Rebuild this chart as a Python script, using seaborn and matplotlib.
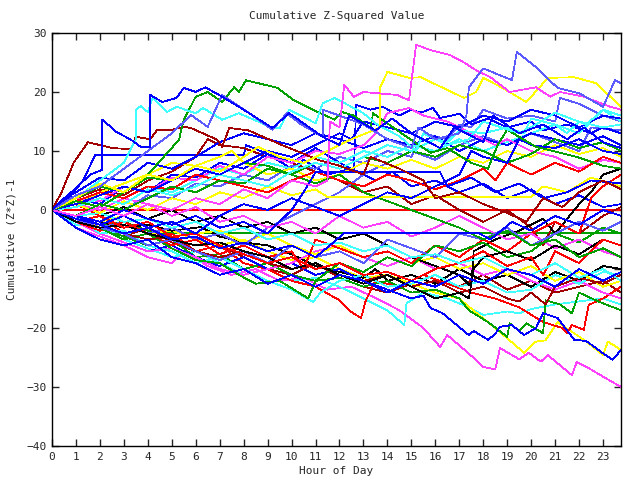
import pandas as pd
import matplotlib
matplotlib.use("Agg")
import matplotlib.pyplot as plt
import seaborn as sns

# colours (gnuplot png style)
RED = '#ff0000'
GRN = '#00a000'
BLU = '#0000ff'
MAG = '#ff40ff'
CYN = '#40ffff'
DRD = '#a00000'
YEL = '#ffff00'
PER = '#5a5aff'
BLK = '#000000'

# each series: (hour, cumulative value) vertices
blue_a = [(0,0),(0.8,3),(1.6,6),(2.1,6.8),(2.1,15.3),(2.7,13.2),(3.3,11.9),(3.7,10.7),(4.1,10.7),(4.1,19.5),(4.6,18.3),(5.2,19),(5.5,20.7),(6.0,20),(6.4,20.8),(7.1,19.2),(8.0,17),(9.2,13.9),(9.9,16.4),(11.3,12.4),(12.0,11),(12.4,16),(13.5,13.5),(14.2,15.5),(15.0,13),(16.2,10.5),(16.8,14),(18.0,11.5),(18.4,16),(19.5,13),(20.5,14.5),(21.5,12),(22.2,14),(23.0,11.5),(23.75,10.5)]
cyan_a = [(0,0),(1,2),(2,5),(3,8),(3.5,12),(3.5,17),(3.7,17.6),(4.0,16.6),(4.2,19),(4.8,16.6),(5.2,17.5),(6,16.4),(6.3,17.3),(7.1,15.3),(7.8,16.4),(9.1,14.1),(9.5,13.8),(9.9,17),(11,14.7),(11.3,18.1),(11.8,19),(13,16.4),(13.6,14.4),(14.5,12.5),(15.2,10),(15.5,13),(16.5,11),(17.4,12),(18,15),(19.5,13),(20.2,14.5),(21,16.5),(22.3,14.5),(23,17),(23.75,16)]
green_a = [(0,0),(1,1.5),(2,0.5),(3,3),(4,6),(5.3,11.9),(5.5,15.3),(6,19.2),(6.5,20),(7.1,18.3),(7.6,20.8),(7.8,20),(8.1,22),(9.4,20.7),(10.1,18.6),(11.1,16.6),(11.8,15.3),(12.1,16.6),(12.6,16),(13.3,13.9),(13.4,16.4),(14.8,12.4),(15.8,9.7),(16.5,10.5),(17.5,8),(18.2,7),(18.6,11),(19,13.6),(20.2,10.7),(21.9,9),(23,7.5),(23.75,7)]
darkred_a = [(0,0),(0.4,3),(0.9,8),(1.5,11.5),(2,11),(2.5,10.5),(3.3,10.3),(3.5,12.4),(4.1,12),(4.4,13.6),(5.0,13.6),(5.5,14.1),(5.8,13.9),(6.9,11.9),(7.1,10.7),(7.4,13.9),(8.2,13.5),(9.6,11),(10.4,9.7),(11.1,8.5),(12,7.5),(13,6),(13.3,9),(14.5,7),(15.5,5),(16,2),(17,3),(18,1),(19,-0.5),(19.8,-2),(20.5,2),(21.3,0.5),(22,3),(23,5),(23.75,3.5)]
peri_a = [(0,0),(1,2.5),(2,4),(3,7),(4,10),(5,13),(5.8,16.1),(6.5,14.1),(7.1,19.5),(8.2,16.5),(9.2,13.6),(9.8,16.4),(10.4,14.5),(11.3,12.4),(11.3,17),(12,16),(13,14.5),(14,12),(15,10.5),(15.3,14),(16,12),(17,13),(17.3,16),(17.4,20.8),(18,24),(19.2,22),(19.4,26.8),(20.2,24.2),(21.1,20.7),(22,19.8),(23,17.5),(23.5,22),(23.75,21.5)]
mag_a = [(0,0),(1,-1),(2,0.5),(3,-1),(4,1),(5,0),(6,2),(7,1),(8,3.5),(9,2),(10,5),(11,4),(11.5,5),(11.6,15),(12,14),(12.2,21.2),(12.6,19.2),(13,20),(14.4,19.5),(14.9,18.6),(15.2,28),(15.8,27.1),(16.6,26.3),(17.2,25),(17.7,23.7),(18.3,22.5),(19.1,20),(20.2,20.8),(20.8,19.2),(21.2,20),(22.2,19.2),(23.3,17.5),(23.75,17)]
yel_a = [(0,0),(1,2),(2,4.5),(3,3),(4,6),(5,5),(6,7.5),(7,6.5),(8,9),(8.6,10.7),(9.5,9),(10.5,8),(11.5,10),(12.5,12),(13.7,14),(13.7,20.8),(14,23.4),(14.9,22.4),(15.4,22.5),(15.8,21.7),(17.2,19),(17.7,20),(18,22.4),(18.8,20.7),(19.8,18.3),(20.7,22.4),(21.8,22.5),(22.7,21.5),(23.3,19.2),(23.75,17.5)]
mag_b = [(0,0),(0.5,-1.5),(1,-3),(2,-4.5),(3,-6),(4,-8),(5,-9),(5.5,-7),(6.5,-9.5),(7.5,-11),(8.5,-10),(9.5,-12),(10.5,-11.5),(11.5,-13.5),(12.5,-13),(13.7,-15.3),(14.5,-17),(15.5,-20),(16.2,-23.2),(16.5,-21.2),(17.7,-25.4),(18,-26.6),(18.5,-27),(18.7,-23.4),(19.5,-25.3),(19.9,-24.2),(20.4,-25.7),(20.7,-24.6),(21.7,-28),(21.9,-25.8),(22.4,-26.8),(22.9,-28),(23.75,-30)]
blue_b = [(0,0),(1,-2),(2,-4),(3,-5.5),(4,-7),(5,-6),(6,-8),(7,-9.5),(8,-8),(9,-10),(10,-9),(11,-11),(12,-10),(13,-12),(14,-13.5),(15,-15),(15.5,-14.5),(15.8,-16.6),(16.3,-17.5),(17.4,-21.2),(17.6,-20.5),(18.2,-22),(18.5,-21),(18.7,-19.8),(19.2,-19.5),(19.7,-21.2),(20.2,-20),(20.5,-17.5),(21.1,-18.3),(21.8,-22),(22.3,-22.2),(22.9,-24),(23.4,-25.4),(23.75,-23.7)]
yel_b = [(0,0),(1,-1),(2,-3),(3,-2),(4,-4),(5,-3.5),(6,-5),(7,-6),(8,-5),(9,-7),(10,-8.5),(11,-8),(12,-10),(13,-11.5),(14,-11),(15,-12.5),(16,-14),(17,-15),(17.4,-16.4),(18.5,-20),(19.7,-24.2),(20.2,-22.3),(20.6,-22.1),(21.1,-19),(22.2,-22),(23,-24.6),(23.2,-22.3),(23.75,-23.7)]
green_b = [(0,0),(1,-1.5),(2,-3),(3,-4.5),(4,-6),(5,-5),(6,-8),(7,-7.5),(8,-10),(9,-9),(10,-11),(11,-12),(12,-11.5),(13,-13),(14,-12),(15,-14),(16,-13.5),(17,-15),(17.4,-17),(18.2,-19),(19,-21.5),(19.1,-19.2),(19.5,-20.5),(19.8,-19.2),(20.5,-20.9),(20.6,-15.3),(21.2,-16),(21.7,-17.5),(22,-14),(22.8,-15.5),(23.75,-17)]
red_b = [(0,0),(1,-2),(2,-1),(3,-4),(4,-5),(5,-4),(6,-7),(7,-6),(8,-9),(9,-10),(10,-12),(11,-13),(12,-15.3),(12.5,-17.3),(12.9,-18.3),(13.1,-15.3),(13.5,-12),(14.5,-13),(15.5,-11),(16.5,-12.5),(17.5,-14),(18.5,-15),(19.5,-16.5),(20.5,-19),(21.3,-20),(21.5,-20.9),(21.7,-19.5),(22.2,-20.3),(22.4,-16.1),(23,-15),(23.75,-13)]
cyan_b = [(0,0),(1,-2.5),(2,-3),(3,-5),(4,-6.5),(5,-8),(6,-7),(7,-9),(8,-11),(9,-10),(10,-12),(11,-11.5),(12,-13),(13,-15),(14,-17),(14.7,-19.5),(14.8,-15.8),(15.5,-14),(16.5,-15),(17.4,-16.5),(18,-17.8),(19,-17.2),(19.5,-17.5),(20,-16.8),(21,-16),(22,-15.5),(23,-15),(23.75,-16)]
cyan_c = [(0,0),(1,-1),(2,-4),(3,-3.5),(4,-6),(5,-7),(6,-9),(7,-8),(8,-10),(9,-12),(10,-13.5),(10.9,-15.6),(11.2,-14),(12,-12),(13,-11),(14,-13),(15,-12.5),(16,-11),(17,-13),(18,-12),(19,-14),(20,-13.5),(21,-11),(22,-12.5),(23,-10.5),(23.75,-11)]
green_c = [(0,0),(1,-2),(2,-3),(3,-5),(4,-4),(5,-6.5),(6,-8.5),(7,-9),(7.8,-11),(8.5,-12.5),(9.5,-12),(10.7,-15),(11,-12),(12,-9),(13,-10.5),(14,-8),(15,-9.5),(16,-6),(17,-7),(18,-5.5),(19,-8),(20,-7),(21,-4),(22,-5.5),(23,-3),(23.75,-4)]
red_h = [(0,0.5),(0.5,0),(23.75,0)]
green_h = [(0,0),(1,-1),(2,-2.5),(3,-2),(4,-3.5),(4.5,-3.9),(23.75,-3.9)]
blue_h1 = [(0,0),(0.7,2),(1.3,5),(1.8,9.3),(8.0,9.3),(8.1,11),(9,9.5),(10,7),(10.5,8.5),(11.5,6),(12.5,7),(13.5,5),(14.2,6.5),(15,4),(16,5),(17,3),(18,4.5),(19,2),(20,3.5),(21,1),(22,2.5),(23,0.5),(23.75,1)]
blue_h2 = [(0,0),(1,-1),(2,-2),(3,0),(4,-1.5),(5,-2.5),(6,-1),(7,-3),(8,-2),(9,-4),(10,0),(10.5,3),(11,6.4),(16.2,6.4),(16.5,4),(17.5,5.5),(18.5,3),(19.5,4.5),(20.5,2),(21.5,3),(22.5,5),(23.75,4.5)]
yel_h = [(0,0),(1,1),(2,-0.5),(3,1.5),(4,0),(5,2),(6,1),(7,3),(8,2),(9,4),(10,2.5),(11,3.5),(11.5,2.2),(20.0,2.2),(20.5,4),(21.5,3),(22.5,5.5),(23.75,4)]
blue_h3 = [(0,0),(1,-1.5),(2,-2.5),(3,-4),(4,-3),(5,-5),(6,-4.5),(7,-6.5),(8,-5.5),(9,-7),(10,-6),(11,-8),(11.6,-6),(12.2,-3.9),(17.8,-3.9),(18.3,-5),(19.2,-2),(20,-3.5),(21,-1),(22,-2.5),(23,0),(23.75,-1)]
blk_a = [(0,0),(1,-1),(2,-2),(3,-3),(4,-2.5),(5,-3.5),(6.2,-2.9),(7,-4.5),(8,-5.5),(9,-6),(10,-7.5),(11,-9.5),(12,-10.5),(13,-11.5),(13.5,-10),(14,-12),(15,-11),(16,-12.5),(17,-10),(18,-12),(19,-11),(20,-13),(21,-10.5),(22,-12),(23,-9.5),(23.75,-10)]
blk_b = [(0,0),(1,1),(2,-1),(3,0.5),(4,-1.5),(5,0),(6,-2),(7,-1),(8,-3),(9,-2),(10,-4),(11,-3),(12,-5),(13,-4),(14,-6),(15,-8),(16,-9.5),(17,-11),(17.5,-13),(17.6,-7),(18.5,-5),(19.5,-3.5),(20.5,-1.5),(21,-4),(22,1),(22.5,3),(23,6),(23.75,7)]
blue_c = [(0,0),(1,2),(2,1),(3,4),(4,3),(5,6),(6,5.5),(7,8),(8,7),(9,9.5),(10,8),(11,10.5),(12,8),(12.6,6.8),(12.7,17.8),(13.3,17),(13.8,17.5),(14.5,16),(15,17),(15.4,16.5),(15.9,17.3),(16.2,15.6),(17,16.3),(17.5,14.5),(18.2,15.5),(19,14),(20,15),(20.5,13.5),(21.5,14.5),(22.5,13),(23,14),(23.75,13)]
peri_b = [(0,0),(1,-1),(2,1),(3,0),(4,2.5),(5,2),(6,4.5),(7,4),(8,6),(9,5),(10,7.5),(11,7),(12,9),(13,8),(14,10),(15,9),(15.5,13),(16.5,12),(17,14.5),(17.5,14),(18,17),(19,15.5),(20,16),(21,15),(21.2,19),(22,18),(23,16),(23.75,15)]
peri_c = [(0,0),(1,-2),(2,-3),(3,-2),(4,-4),(5,-3),(6,-5),(7,-4),(8,-6),(9,-3),(10,-1),(11,1),(12,3),(13,6),(14,8),(15,10),(16,8.5),(17,11),(18,12.5),(19,11),(20,13),(21,11.5),(22,10),(22.5,14),(23.75,13.5)]
blue_d = [(0,0),(0.5,2),(1,3),(2,5.5),(3,5),(4,8),(5,7),(6,9),(7,11.5),(8,13),(9,12),(10,11),(11,13),(12,12),(13,10.5),(14,12),(15,11),(16,12.5),(17,10),(18,12),(19,11),(20,13),(21,12),(22,11),(23,12.5),(23.75,11)]
cyan_d = [(0,0),(1,1),(2,3),(3,2),(4,4),(5,3),(6,5),(7,7),(8,6),(9,8),(10,7),(11,9),(12,8),(13,10),(14,9),(15,11),(16,10),(17,12),(18,10),(19,11.5),(20,13),(21,14.5),(21.5,13),(22,15),(23,14),(23.75,14.5)]
red_c = [(0,0),(1,-2),(2,-3.5),(3,-2),(4,-4),(5,-6),(6,-5),(7,-7.5),(8,-6),(9,-8),(10,-7),(10.5,-10),(11,-5),(12,-6.5),(13,-8),(14,-7),(15,-9),(16,-6),(17,-8),(18,-5),(19,-7),(20,-4),(21,-2),(22,-4),(22.5,2),(23,4),(23.75,6)]
red_d = [(0,0),(1,1),(2,-1),(3,-3),(4,-2),(5,-4.5),(6,-4),(7,-6),(8,-7.5),(9,-9),(10,-8),(11,-10),(12,-9),(13,-11),(14,-10.5),(15,-12),(16,-10),(17,-9),(18,-7),(19,-9.5),(20,-8),(20.5,-11),(21,-7),(22,-9),(23,-5),(23.75,-6)]
darkred_b = [(0,0),(1,-1.5),(2,-3),(3,-4.5),(4,-3),(5,-5.5),(6,-7),(7,-6),(8,-8),(9,-10),(10,-11),(11,-9),(12,-11.5),(13,-13),(14,-14),(15,-12.5),(16,-11),(17,-13),(18,-11),(19,-13.5),(20,-12),(21,-14),(22,-13),(23,-12),(23.75,-14)]
darkred_c = [(0,0),(1,2),(2,3.5),(3,2.5),(4,5),(5,6.5),(6,9),(6.5,12),(7,11),(8,10.5),(9,9),(10,8),(11,6.5),(12,5),(13,3),(14,4),(15,1),(16,2.5),(17,0),(18,-2),(19,0),(20,-3),(20.5,-6),(21,-2),(22,-4),(23,-1),(23.75,0.5)]
mag_c = [(0,0),(1,-2),(2,-4),(3,-5.5),(4,-7),(5,-6.5),(6,-8),(7,-10),(8,-11),(9,-10),(10,-9),(11,-7),(12,-6),(13,-8),(14,-9.5),(15,-8),(16,-10),(17,-9),(18,-11),(19,-10),(20,-12),(21,-13.5),(22,-12),(23,-14),(23.75,-15)]
mag_d = [(0,0),(1,1),(2,0),(3,2),(4,1),(5,-1),(6,0.5),(7,-2),(8,-1),(9,-3),(10,-2),(11,-4),(12,-1),(13,-3),(14,-2),(15,-4.5),(16,-3),(17,-1),(18,-3),(19,-5),(20,-4),(21,-6.5),(22,-5),(23,-7),(23.75,-8)]
mag_e = [(0,0),(1,2),(2,1.5),(3,4),(4,3),(5,5.5),(6,5),(7,7.5),(8,6),(9,9),(10,8),(11,10),(12,9.5),(13,11),(13.5,13),(14,16.4),(14.9,17.3),(15.5,16),(16.5,15),(17.5,13),(18.5,11),(19,12),(20,10),(21,9),(22,7),(23,8.5),(23.75,8)]
yel_c = [(0,0),(1,-1),(2,-2),(3,-1),(4,-3),(5,-2),(6,-4),(7,-3.5),(8,-5.5),(9,-4),(10,-6),(11,-7.5),(12,-6),(13,-8),(14,-7),(15,-9),(16,-8),(17,-10),(18,-9),(19,-11),(20,-9.5),(21,-12),(22,-10.5),(23,-13),(23.75,-12)]
green_d = [(0,0),(1,2),(2,4),(3,3),(4,5.5),(5,5),(6,7),(7,6),(8,8),(9,7.5),(10,6),(11,4.5),(12,6),(13,3),(14,1.5),(15,0),(16,-1.5),(17,-3),(18,-5),(19,-3.5),(20,-6),(21,-5),(22,-8),(23,-6.5),(23.75,-8)]
blue_e = [(0,0),(1,-3),(2,-5),(3,-6),(4,-5),(5,-8),(6,-9),(7,-11),(8,-10),(9,-12.5),(10,-11),(11,-13),(12,-11),(13,-12),(14,-14),(15,-12),(16,-13),(17,-11),(18,-12.5),(19,-10),(20,-11),(21,-13),(22,-10),(23,-12),(23.75,-10.5)]
blue_f = [(0,0),(1,-1),(2,-2.5),(3,-1),(4,-3),(5,-2),(6,-4),(7,-1),(8,1),(9,0),(10,2),(11,0.5),(12,-1),(13,1),(14,3),(15,2),(16,4),(17,6),(17.5,10),(18,9),(19,8),(19.5,12),(20,11),(21,10.5),(22,12),(23,10),(23.75,9.5)]
peri_d = [(0,0),(1,-1.5),(2,-3),(3,-4),(4,-6),(5,-5),(6,-7),(7,-8.5),(8,-7),(9,-9),(10,-6),(11,-8),(12,-7),(13,-9),(14,-5),(15,-6.5),(16,-8),(17,-4),(18,-5),(19,-3),(20,-6),(21,-4),(22,-2),(23,-3.5),(23.75,-2)]
cyan_e = [(0,0),(1,-1),(2,-0.5),(3,-2),(4,-1.5),(5,-3),(6,-2),(7,-4),(8,-3),(9,-5),(10,-4),(11,-6),(12,-5.5),(13,-7),(14,-6),(15,-8),(16,-7.5),(17,-9),(18,-8),(19,-10),(20,-11),(21,-9),(22,-11.5),(23,-10),(23.75,-12)]
red_e = [(0,0),(1,1.5),(2,3),(3,2),(4,4),(5,3.5),(6,6),(7,5),(8,4),(9,3),(10,5),(11,6.5),(12,5),(13,4),(14,6),(15,5),(16,3.5),(17,5),(18,7),(18.5,5),(19,8),(20,6),(21,8),(22,6.5),(23,9),(23.75,8)]
darkred_d = [(0,0),(1,-1),(2,-2.5),(3,-4),(4,-5),(5,-4.5),(6,-7),(7,-8),(8,-7),(9,-9),(10,-10),(11,-9),(12,-11),(13,-12),(14,-11),(15,-13),(16,-12),(17,-14),(18,-13),(19,-15),(19.5,-15.5),(20,-14),(20.6,-16),(21,-13),(22,-11.5),(23,-12.5),(23.75,-11)]
green_e = [(0,0),(1,-1),(2,1),(3,0),(4,2),(5,4),(6,3),(7,5),(8,4.5),(9,7),(10,6),(11,8),(12,7),(13,9),(14,8),(15,10),(16,9),(17,11),(18,10),(19,8),(20,9.5),(21,12),(22,10.5),(23,11.5),(23.75,10)]
yel_d = [(0,0),(1,1),(2,3),(3,4.5),(4,6),(5,8),(6,7.5),(7,9),(7.5,10),(8,8),(9,6),(10,7),(11,5),(12,6),(13,8),(14,7),(15,8.5),(16,7),(17,9),(18,8),(19,10),(20,9),(21,11),(22,9.5),(23,10.5),(23.75,9)]
blk_c = [(0,0),(1,-2),(2,-3),(3,-2.5),(4,-4),(5,-5),(6,-6),(7,-5.5),(8,-7),(9,-8),(10,-10),(11,-9),(12,-11),(13,-12.5),(14,-11),(15,-13),(16,-15),(17,-14),(17.4,-15),(17.6,-10),(18,-8),(19,-7),(20,-8.5),(21,-6),(22,-7.5),(23,-5),(23.75,-6)]
cyan_f = [(0,0),(1,0.5),(2,2),(3,1),(4,3.5),(5,2.5),(6,4),(7,6),(8,5),(9,4),(10,6.5),(11,8),(12,7),(13,9),(14,11),(15,10),(16,12),(16.5,11.5),(17,13.5),(18,13),(19,14),(19.7,13),(20,15.5),(21,14.5),(22,13),(23,17),(23.75,15)]
blue_g = [(0,0),(1,1),(2,2.5),(3,4),(4,3),(5,5),(6,7),(7,6),(8,8),(9,10),(10,9),(11,11),(12,13),(12.5,12),(13,15),(14,14),(15,13),(16,15),(17,14),(18,16),(19,15),(20,17),(21,16),(22,14),(23,16),(23.75,15.5)]

series = [
    ("red_h", RED, red_h), ("green_h", GRN, green_h), ("blue_h1", BLU, blue_h1),
    ("mag_b", MAG, mag_b), ("cyan_b", CYN, cyan_b), ("darkred_b", DRD, darkred_b),
    ("yel_b", YEL, yel_b), ("peri_b", PER, peri_b), ("blk_a", BLK, blk_a),
    ("red_b", RED, red_b), ("green_b", GRN, green_b), ("blue_b", BLU, blue_b),
    ("mag_c", MAG, mag_c), ("cyan_c", CYN, cyan_c), ("darkred_c", DRD, darkred_c),
    ("yel_c", YEL, yel_c), ("peri_c", PER, peri_c), ("blk_b", BLK, blk_b),
    ("red_c", RED, red_c), ("green_c", GRN, green_c), ("blue_c", BLU, blue_c),
    ("mag_d", MAG, mag_d), ("cyan_d", CYN, cyan_d), ("darkred_d", DRD, darkred_d),
    ("yel_d", YEL, yel_d), ("peri_d", PER, peri_d), ("blk_c", BLK, blk_c),
    ("red_d", RED, red_d), ("green_d", GRN, green_d), ("blue_d", BLU, blue_d),
    ("mag_e", MAG, mag_e), ("cyan_e", CYN, cyan_e), ("yel_h", YEL, yel_h),
    ("red_e", RED, red_e), ("green_e", GRN, green_e), ("blue_e", BLU, blue_e),
    ("cyan_f", CYN, cyan_f), ("blue_f", BLU, blue_f), ("blue_g", BLU, blue_g),
    ("blue_h2", BLU, blue_h2), ("blue_h3", BLU, blue_h3),
    ("darkred_a", DRD, darkred_a), ("green_a", GRN, green_a), ("cyan_a", CYN, cyan_a),
    ("yel_a", YEL, yel_a), ("mag_a", MAG, mag_a), ("peri_a", PER, peri_a),
    ("blue_a", BLU, blue_a),
]

rows = []
for name, col, pts in series:
    for i, (h, v) in enumerate(pts):
        rows.append({"serie": name, "ordem": i, "hora": h, "valor": v})
df = pd.DataFrame(rows)
paleta = {name: col for name, col, pts in series}

sns.set_style("ticks")
plt.rcParams['font.family'] = ['DejaVu Sans Mono']

fig = plt.figure(figsize=(6.4, 4.8), dpi=100)
ax = fig.add_axes([52/640, 34/480, 569/640, 413/480])

# thin, unsmoothed lines like the gnuplot png
sns.lineplot(
    data=df, x="hora", y="valor", hue="serie", palette=paleta,
    units="serie", estimator=None, sort=False, legend=False,
    linewidth=0.55, antialiased=False, ax=ax
)

ax.set_xlim(0, 23.75)
ax.set_ylim(-40, 30)
ax.set_xticks(range(0, 24))
ax.set_yticks(range(-40, 31, 10))
ax.tick_params(direction="in", length=5, width=1, top=True, right=True,
               labelsize=8, pad=4)
for s in ax.spines.values():
    s.set_linewidth(1)
    s.set_color("black")

ax.set_title("Cumulative Z-Squared Value", fontsize=8, pad=10)
ax.set_xlabel("Hour of Day", fontsize=8, labelpad=3)
ax.set_ylabel("Cumulative (Z*Z)-1", fontsize=8, labelpad=7)

fig.savefig("out.png", dpi=100)
